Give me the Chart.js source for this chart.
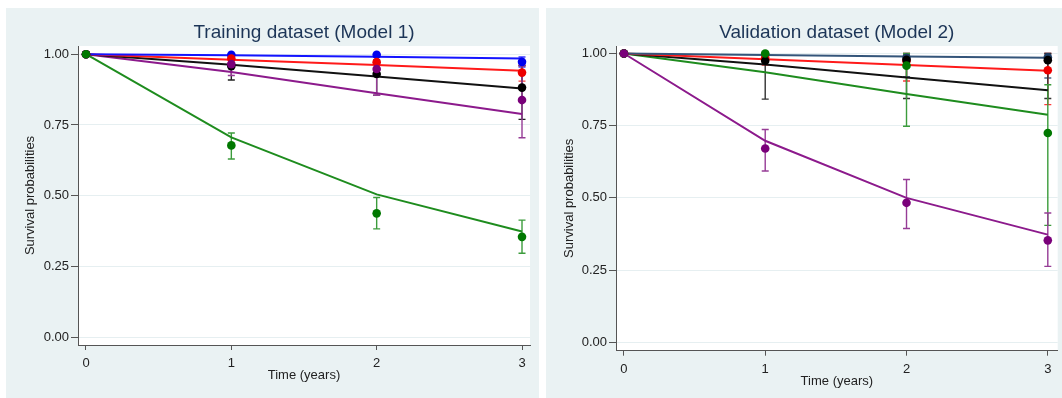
<!DOCTYPE html>
<html>
<head>
<meta charset="utf-8">
<script src="https://cdn.jsdelivr.net/npm/chart.js@4.4.1/dist/chart.umd.min.js"></script>
<style>
body { margin:0; background:#fff; width:1062px; height:398px; position:relative; overflow:hidden; }
canvas { position:absolute; }
#trainChart { left:6px; top:8px; }
#validChart { left:546px; top:8px; }
</style>
</head>
<body>
<canvas id="trainChart" width="533" height="390"></canvas>
<canvas id="validChart" width="516" height="390"></canvas>
<script>
// time points and tick labels
var timeYears = [0, 1, 2, 3];
var xTicks = [0, 1, 2, 3];
var yTicks = [0, 0.25, 0.5, 0.75, 1];

// training dataset (model 1): predicted curves
var trainBluePred   = [1, 0.996, 0.991, 0.985];
var trainRedPred    = [1, 0.980, 0.962, 0.942];
var trainBlackPred  = [1, 0.963, 0.921, 0.879];
var trainPurplePred = [1, 0.937, 0.862, 0.789];
var trainGreenPred  = [1, 0.706, 0.505, 0.374];
// training: observed with CI
var trainBlueObs   = [1, 0.998, 0.998, 0.973];
var trainBlueLow   = [null, 0.990, 0.990, 0.955];
var trainBlueHigh  = [null, 1.000, 1.000, 0.990];
var trainRedObs    = [1, 0.985, 0.972, 0.935];
var trainRedLow    = [null, 0.970, 0.950, 0.905];
var trainRedHigh   = [null, 0.995, 0.990, 0.960];
var trainBlackObs  = [1, 0.958, 0.930, 0.882];
var trainBlackLow  = [null, 0.909, 0.855, 0.770];
var trainBlackHigh = [null, 0.990, 0.980, 0.960];
var trainPurpleObs  = [1, 0.965, 0.948, 0.838];
var trainPurpleLow  = [null, 0.925, 0.855, 0.705];
var trainPurpleHigh = [null, 0.995, 0.990, 0.960];
var trainGreenObs  = [1, 0.678, 0.438, 0.355];
var trainGreenLow  = [null, 0.630, 0.383, 0.297];
var trainGreenHigh = [null, 0.722, 0.494, 0.414];

// validation dataset (model 2): predicted curves
var validNavyPred   = [1, 0.995, 0.990, 0.985];
var validRedPred    = [1, 0.980, 0.960, 0.940];
var validBlackPred  = [1, 0.962, 0.917, 0.873];
var validGreenPred  = [1, 0.935, 0.860, 0.788];
var validPurplePred = [1, 0.698, 0.500, 0.373];
// validation: observed with CI
var validNavyObs   = [1, 0.997, 0.985, 0.987];
var validNavyLow   = [null, 0.980, 0.920, 0.915];
var validNavyHigh  = [null, 1.000, 1.000, 1.000];
var validRedObs    = [1, 0.985, 0.975, 0.942];
var validRedLow    = [null, 0.960, 0.905, 0.823];
var validRedHigh   = [null, 1.000, 1.000, 1.000];
var validBlackObs  = [1, 0.975, 0.978, 0.977];
var validBlackLow  = [null, 0.842, 0.844, 0.844];
var validBlackHigh = [null, 1.000, 0.995, 1.000];
var validGreenObs  = [1, 1.000, 0.958, 0.725];
var validGreenLow  = [null, null, 0.748, 0.405];
var validGreenHigh = [null, null, 1.000, 0.892];
var validPurpleObs  = [1, 0.671, 0.483, 0.353];
var validPurpleLow  = [null, 0.593, 0.394, 0.263];
var validPurpleHigh = [null, 0.737, 0.564, 0.448];

var FONT = "'Liberation Sans', Arial, Helvetica, sans-serif";
var PANEL_BG = '#eaf2f3';

// panel background + white plot region
var backgroundPlugin = {
    id: 'panelBg',
    beforeDraw: function(chart) {
        var ctx = chart.ctx, a = chart.chartArea;
        ctx.save();
        ctx.fillStyle = PANEL_BG;
        ctx.fillRect(0, 0, chart.width, chart.height);
        ctx.fillStyle = '#fff';
        ctx.fillRect(a.left, a.top, a.right - a.left, a.bottom - a.top);
        ctx.restore();
    }
};

// capped error bars, read from ciLow / ciHigh on each dataset
var errorBarPlugin = {
    id: 'errorBars',
    beforeDatasetsDraw: function(chart) {
        var ctx = chart.ctx, x = chart.scales.x, y = chart.scales.y;
        chart.data.datasets.forEach(function(ds) {
            if (!ds.ciLow) return;
            ctx.save();
            ctx.strokeStyle = ds.ciColor;
            ctx.lineWidth = 1.4;
            ds.ciLow.forEach(function(lo, i) {
                var hi = ds.ciHigh[i];
                if (lo == null || hi == null) return;
                var px = x.getPixelForValue(timeYears[i]);
                var top = y.getPixelForValue(hi), bot = y.getPixelForValue(lo);
                ctx.beginPath();
                ctx.moveTo(px, top); ctx.lineTo(px, bot);
                ctx.moveTo(px - 3.5, top); ctx.lineTo(px + 3.5, top);
                ctx.moveTo(px - 3.5, bot); ctx.lineTo(px + 3.5, bot);
                ctx.stroke();
            });
            ctx.restore();
        });
    }
};

function buildChart(id, titleText, series, o) {
    var datasets = [];
    series.forEach(function(s) {
        datasets.push({
            type: 'line',
            data: timeYears.map(function(t, i) { return {x: t, y: s.pred[i]}; }),
            borderColor: s.line, borderWidth: 2, pointRadius: 0, tension: 0, fill: false, order: 10
        });
    });
    // later series drawn on top (lower order = drawn last)
    series.forEach(function(s, k) {
        datasets.push({
            type: 'line', showLine: false,
            data: timeYears.map(function(t, i) { return {x: t, y: s.obs[i]}; }),
            pointRadius: 4.3, pointBackgroundColor: s.dot, pointBorderColor: s.dot, pointBorderWidth: 0,
            order: series.length - k, ciLow: s.low, ciHigh: s.high, ciColor: s.ci, clip: false
        });
    });

    return new Chart(document.getElementById(id), {
        type: 'line',
        data: { datasets: datasets },
        options: {
            responsive: false,
            animation: false,
            devicePixelRatio: 1,
            layout: { padding: { left: 0, right: o.padRight, top: 0, bottom: 0 } },
            plugins: {
                legend: { display: false },
                tooltip: { enabled: false },
                title: {
                    display: true, text: titleText, fullSize: false,
                    color: '#1c3557',
                    font: { family: FONT, size: 19, weight: 'normal' },
                    padding: { top: 13.6, bottom: 1.6 }
                }
            },
            scales: {
                x: {
                    type: 'linear', min: o.xMin, max: o.xMax,
                    afterBuildTicks: function(s) { s.ticks = xTicks.map(function(v) { return {value: v}; }); },
                    afterFit: function(s) { s.height = o.xHeight; },
                    ticks: { color: '#222', padding: 6, maxRotation: 0,
                             font: { family: FONT, size: 13 },
                             callback: function(v) { return String(v); } },
                    grid: { drawOnChartArea: false, tickLength: 5, tickColor: '#555', tickWidth: 1 },
                    border: { color: '#555', width: 1 },
                    title: { display: true, text: 'Time (years)', color: '#222',
                             font: { family: FONT, size: 13 },
                             padding: { top: 0, bottom: o.xTitlePad } }
                },
                y: {
                    type: 'linear', min: o.yMin, max: o.yMax,
                    afterBuildTicks: function(s) { s.ticks = yTicks.map(function(v) { return {value: v}; }); },
                    afterFit: function(s) { s.width = o.yWidth; },
                    ticks: { color: '#222', padding: 2,
                             font: { family: FONT, size: 13 },
                             callback: function(v) { return v.toFixed(2); } },
                    grid: { color: '#e6eff1', lineWidth: 1, tickLength: 7, tickColor: '#555', tickWidth: 1 },
                    border: { color: '#555', width: 1 },
                    title: { display: true, text: 'Survival probabilities', color: '#222',
                             font: { family: FONT, size: 13 },
                             padding: { top: o.yTitlePad, bottom: 0 } }
                }
            }
        },
        plugins: [backgroundPlugin, errorBarPlugin]
    });
}

buildChart('trainChart', 'Training dataset (Model 1)', [
    { pred: trainBluePred, obs: trainBlueObs, low: trainBlueLow, high: trainBlueHigh, line: '#1414ff', dot: '#0000ee', ci: '#3a3aff' },
    { pred: trainRedPred, obs: trainRedObs, low: trainRedLow, high: trainRedHigh, line: '#ff1a1a', dot: '#ee0000', ci: '#ff3a3a' },
    { pred: trainBlackPred, obs: trainBlackObs, low: trainBlackLow, high: trainBlackHigh, line: '#111111', dot: '#000000', ci: '#222222' },
    { pred: trainPurplePred, obs: trainPurpleObs, low: trainPurpleLow, high: trainPurpleHigh, line: '#8c1a8c', dot: '#7a007a', ci: '#963c96' },
    { pred: trainGreenPred, obs: trainGreenObs, low: trainGreenLow, high: trainGreenHigh, line: '#1e8c1e', dot: '#007800', ci: '#3c9c3c' }
], { xMin: -0.055, xMax: 3.055, yMin: -0.027, yMax: 1.029, padRight: 9, xHeight: 53, yWidth: 72, xTitlePad: 15.2, yTitlePad: 16.5 });

buildChart('validChart', 'Validation dataset (Model 2)', [
    { pred: validNavyPred, obs: validNavyObs, low: validNavyLow, high: validNavyHigh, line: '#34557a', dot: '#1f3f66', ci: '#4a6a8c' },
    { pred: validRedPred, obs: validRedObs, low: validRedLow, high: validRedHigh, line: '#ff1a1a', dot: '#ee0000', ci: '#ff3a3a' },
    { pred: validBlackPred, obs: validBlackObs, low: validBlackLow, high: validBlackHigh, line: '#111111', dot: '#000000', ci: '#333333' },
    { pred: validGreenPred, obs: validGreenObs, low: validGreenLow, high: validGreenHigh, line: '#1e8c1e', dot: '#007800', ci: '#3c9c3c' },
    { pred: validPurplePred, obs: validPurpleObs, low: validPurpleLow, high: validPurpleHigh, line: '#8c1a8c', dot: '#7a007a', ci: '#963c96' }
], { xMin: -0.056, xMax: 3.07, yMin: -0.029, yMax: 1.026, padRight: 2, xHeight: 47.3, yWidth: 70, xTitlePad: 9.2, yTitlePad: 15.5 });
</script>
</body>
</html>
